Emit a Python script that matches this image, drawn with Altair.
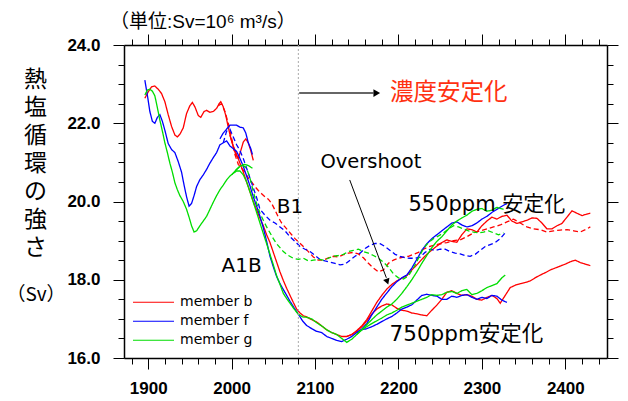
import altair as alt
import pandas as pd

# ---------------- data (year, Sv) ----------------
b_main = [(1896,22.64),(1900,22.8),(1904,22.93),(1908,22.95),(1912,22.87),(1916,22.76),(1920,22.55),(1924,22.22),(1928,21.92),(1932,21.7),(1935,21.65),(1938,21.72),(1942,21.88),(1946,22.25),(1950,22.45),(1953,22.53),(1956,22.42),(1960,22.2),(1963,22.15),(1967,22.3),(1970,22.33),(1974,22.28),(1978,22.3),(1982,22.38),(1985,22.5),(1987,22.55),(1990,22.42),(1993,22.2),(1996,21.9),(1999,21.62),(2002,21.42),(2006,21.2),(2010,20.98),(2014,20.75),(2018,20.5),(2022,20.25),(2026,20.0),(2030,19.78),(2034,19.57),(2038,19.38),(2042,19.15),(2046,18.95),(2050,18.7),(2054,18.45),(2058,18.2),(2062,17.98),(2066,17.78),(2070,17.6),(2074,17.42),(2078,17.25),(2082,17.15),(2086,17.08),(2090,17.05),(2096,16.98),(2102,16.92),(2108,16.82),(2114,16.72),(2120,16.65),(2126,16.6),(2132,16.55),(2138,16.55),(2144,16.6),(2150,16.68),(2156,16.8),(2162,16.95),(2168,17.12),(2174,17.25),(2180,17.33),(2186,17.38),(2192,17.36),(2198,17.27),(2204,17.22),(2210,17.2),(2216,17.15),(2222,17.13),(2228,17.1),(2234,17.08),(2240,17.22),(2246,17.35),(2252,17.5),(2258,17.68),(2264,17.72),(2270,17.65),(2276,17.6),(2282,17.62),(2288,17.58),(2294,17.5),(2300,17.48),(2306,17.55),(2312,17.6),(2318,17.52),(2322,17.4),(2328,17.6),(2334,17.8),(2340,17.86),(2346,17.9),(2352,17.93),(2358,17.97),(2364,18.05),(2370,18.12),(2376,18.18),(2382,18.25),(2388,18.3),(2394,18.35),(2400,18.4),(2406,18.46),(2412,18.5),(2418,18.44),(2424,18.4),(2430,18.36)]
b_over = [(2138,16.55),(2144,16.6),(2150,16.7),(2156,16.82),(2162,16.98),(2168,17.2),(2174,17.42),(2180,17.6),(2186,17.76),(2192,17.88),(2198,17.97),(2204,18.04),(2210,18.1),(2216,18.25),(2222,18.38),(2228,18.52),(2234,18.65),(2240,18.76),(2246,18.86),(2252,18.95),(2258,19.02),(2264,18.98),(2270,18.96),(2276,19.15),(2282,19.3),(2288,19.28),(2294,19.22),(2300,19.38),(2306,19.5),(2312,19.6),(2318,19.55),(2324,19.62),(2330,19.65),(2336,19.5),(2342,19.44),(2348,19.48),(2354,19.52),(2360,19.58),(2366,19.57),(2372,19.45),(2378,19.3),(2384,19.3),(2390,19.38),(2396,19.44),(2402,19.6),(2408,19.76),(2414,19.7),(2420,19.64),(2426,19.68),(2430,19.7)]
b_b1 = [(1984,22.45),(1988,22.5),(1992,22.3),(1996,22.0),(2000,21.62),(2004,21.2),(2008,20.95),(2012,20.85),(2016,20.75),(2020,20.6),(2024,20.5),(2028,20.38),(2032,20.28),(2036,20.2),(2040,20.12),(2044,20.06),(2048,19.95),(2052,19.78),(2056,19.6),(2060,19.45),(2064,19.35),(2068,19.25),(2072,19.15),(2076,19.05),(2080,18.97),(2086,18.85),(2092,18.72),(2098,18.58),(2104,18.5),(2110,18.5),(2116,18.56),(2122,18.6),(2128,18.58),(2134,18.64),(2140,18.68),(2146,18.7),(2152,18.66),(2158,18.56),(2164,18.42),(2170,18.3),(2176,18.2),(2182,18.25),(2188,18.42),(2194,18.5),(2200,18.55),(2206,18.58),(2212,18.6),(2218,18.65),(2224,18.7),(2230,18.78),(2236,18.84),(2242,18.88),(2250,18.92),(2258,18.95),(2266,19.0),(2274,19.02),(2282,19.1),(2290,19.2),(2298,19.25),(2306,19.3),(2314,19.35),(2322,19.4),(2330,19.48),(2338,19.55),(2346,19.45),(2354,19.35),(2362,19.3),(2370,19.28),(2378,19.22),(2386,19.25),(2394,19.27),(2402,19.28),(2410,19.25),(2418,19.22),(2424,19.28),(2430,19.35)]
b_commit = [(1998,21.7),(2002,21.4),(2005,21.2),(2008,21.1),(2011,21.3),(2014,21.52),(2017,21.6),(2020,21.5),(2023,21.3),(2026,21.05)]

f_main = [(1896,23.1),(1899,22.72),(1902,22.3),(1905,22.05),(1908,22.0),(1911,22.15),(1914,22.22),(1917,22.05),(1920,21.82),(1924,21.48),(1928,21.33),(1932,21.25),(1936,21.02),(1940,20.75),(1943,20.42),(1946,20.12),(1949,19.88),(1952,19.95),(1955,20.15),(1958,20.38),(1962,20.56),(1966,20.68),(1970,20.82),(1974,20.98),(1978,21.12),(1982,21.25),(1986,21.45),(1990,21.5),(1994,21.55),(1998,21.42),(2002,21.35),(2006,21.28),(2010,21.1),(2014,20.9),(2018,20.65),(2022,20.4),(2026,20.12),(2030,19.88),(2034,19.62),(2038,19.33),(2042,18.98),(2046,18.6),(2050,18.33),(2054,18.08),(2058,17.9),(2062,17.75),(2066,17.6),(2070,17.45),(2075,17.28),(2080,17.12),(2085,16.95),(2090,16.83),(2096,16.75),(2102,16.68),(2108,16.65),(2114,16.55),(2120,16.5),(2126,16.45),(2132,16.42),(2138,16.48),(2144,16.55),(2150,16.65),(2156,16.72),(2162,16.75),(2168,16.8),(2174,16.86),(2180,16.93),(2186,17.0),(2192,17.06),(2198,17.15),(2204,17.25),(2210,17.3),(2216,17.36),(2222,17.48),(2228,17.6),(2234,17.63),(2240,17.6),(2246,17.58),(2252,17.5),(2258,17.5),(2264,17.58),(2270,17.55),(2276,17.6),(2282,17.62),(2288,17.55),(2294,17.5),(2300,17.55),(2306,17.52),(2312,17.6),(2318,17.58),(2324,17.48),(2330,17.42)]
f_over = [(2150,16.65),(2156,16.74),(2162,16.88),(2168,17.1),(2174,17.3),(2180,17.5),(2186,17.66),(2192,17.82),(2198,17.95),(2204,18.05),(2210,18.12),(2216,18.3),(2222,18.52),(2228,18.75),(2234,18.92),(2240,19.05),(2246,19.15),(2252,19.25),(2258,19.35),(2264,19.45),(2270,19.48),(2276,19.4),(2282,19.35),(2288,19.38),(2294,19.45),(2300,19.55),(2306,19.62),(2312,19.72),(2318,19.8),(2324,19.88),(2330,19.95)]
f_b1 = [(1990,21.5),(1994,21.8),(1998,21.85),(2002,21.65),(2006,21.45),(2010,21.3),(2014,21.1),(2018,20.85),(2022,20.6),(2026,20.35),(2030,20.1),(2034,19.8),(2040,19.65),(2046,19.52),(2052,19.45),(2058,19.35),(2064,19.25),(2070,19.1),(2076,18.98),(2082,18.85),(2088,18.78),(2094,18.72),(2100,18.62),(2106,18.52),(2112,18.48),(2118,18.45),(2124,18.42),(2130,18.38),(2136,18.4),(2142,18.5),(2148,18.6),(2154,18.68),(2160,18.8),(2166,18.88),(2172,18.93),(2178,18.92),(2184,18.85),(2190,18.75),(2196,18.65),(2202,18.6),(2208,18.56),(2214,18.55),(2220,18.55),(2226,18.58),(2232,18.7),(2238,18.78),(2244,18.75),(2250,18.78),(2256,18.78),(2262,18.72),(2268,18.68),(2274,18.66),(2280,18.62),(2286,18.6),(2292,18.65),(2298,18.75),(2304,18.85),(2310,18.9),(2316,18.95),(2322,19.05),(2328,19.2)]
f_commit = [(1986,21.6),(1990,21.75),(1994,21.85),(1998,21.95),(2002,21.95),(2006,21.95),(2010,21.9),(2014,21.88),(2017,21.75),(2020,21.5),(2023,21.35),(2025,21.2)]

g_main = [(1896,22.72),(1899,22.85),(1902,22.87),(1905,22.82),(1908,22.7),(1911,22.4),(1914,22.08),(1917,21.8),(1920,21.5),(1923,21.25),(1926,20.98),(1929,20.75),(1932,20.48),(1935,20.3),(1938,20.15),(1942,20.0),(1946,19.8),(1949,19.6),(1952,19.38),(1955,19.22),(1958,19.25),(1962,19.38),(1966,19.5),(1970,19.62),(1974,19.8),(1978,19.98),(1982,20.15),(1986,20.3),(1990,20.42),(1994,20.55),(1998,20.65),(2002,20.72),(2006,20.78),(2010,20.78),(2014,20.68),(2018,20.5),(2022,20.25),(2026,19.98),(2030,19.72),(2034,19.45),(2038,19.18),(2042,18.92),(2046,18.65),(2050,18.38),(2054,18.1),(2058,17.88),(2062,17.65),(2066,17.52),(2070,17.4),(2075,17.25),(2080,17.12),(2085,17.05),(2090,17.04),(2096,17.0),(2102,16.9),(2108,16.82),(2114,16.72),(2120,16.65),(2126,16.6),(2132,16.5),(2138,16.4),(2144,16.48),(2150,16.6),(2156,16.72),(2162,16.8),(2168,16.88),(2174,16.95),(2180,17.02),(2186,17.1),(2192,17.15),(2198,17.22),(2204,17.3),(2210,17.35),(2216,17.4),(2222,17.45),(2228,17.5),(2234,17.55),(2240,17.62),(2246,17.6),(2252,17.62),(2258,17.68),(2264,17.7),(2270,17.65),(2276,17.72),(2282,17.75),(2288,17.62),(2294,17.65),(2300,17.72),(2306,17.8),(2312,17.85),(2318,17.9),(2324,18.05),(2328,18.12)]
g_over = [(2150,16.6),(2156,16.72),(2162,16.85),(2168,16.98),(2174,17.1),(2180,17.2),(2186,17.3),(2192,17.38),(2198,17.5),(2204,17.65),(2210,17.82),(2216,18.0),(2222,18.2),(2228,18.42),(2234,18.62),(2240,18.82),(2246,18.98),(2252,19.1),(2258,19.25),(2264,19.4),(2270,19.5),(2276,19.58),(2282,19.65),(2288,19.75),(2294,19.8),(2300,19.82),(2306,19.75),(2312,19.78),(2318,19.85),(2326,19.8)]
g_b1 = [(2005,20.8),(2010,20.9),(2014,20.92),(2018,20.85),(2022,20.6),(2026,20.25),(2030,19.95),(2034,19.7),(2038,19.52),(2042,19.35),(2046,19.2),(2050,19.05),(2054,18.92),(2058,18.82),(2062,18.72),(2068,18.62),(2074,18.55),(2080,18.52),(2086,18.55),(2092,18.48),(2098,18.5),(2104,18.52),(2110,18.5),(2116,18.55),(2122,18.6),(2128,18.62),(2134,18.65),(2140,18.72),(2146,18.75),(2152,18.78),(2158,18.72),(2164,18.68),(2170,18.62),(2176,18.55),(2182,18.45),(2188,18.32),(2194,18.15),(2200,18.05),(2206,18.02),(2212,18.1),(2218,18.3),(2224,18.55),(2230,18.8),(2236,18.95),(2242,19.05),(2248,19.12),(2254,19.2),(2260,19.3),(2266,19.38),(2272,19.35),(2278,19.3),(2284,19.25),(2290,19.22),(2296,19.2),(2302,19.22),(2308,19.25),(2314,19.2),(2320,19.15),(2326,19.2)]
g_commit = [(2000,20.68),(2005,20.8),(2010,20.9),(2015,20.95),(2020,20.92),(2025,20.85)]

members = ["member b", "member f", "member g"]
series = [
    ("member b", "solid", "b_main", b_main), ("member b", "solid", "b_over", b_over),
    ("member b", "dashed", "b_b1", b_b1), ("member b", "solid", "b_commit", b_commit),
    ("member f", "solid", "f_main", f_main), ("member f", "solid", "f_over", f_over),
    ("member f", "dashed", "f_b1", f_b1), ("member f", "solid", "f_commit", f_commit),
    ("member g", "solid", "g_main", g_main), ("member g", "solid", "g_over", g_over),
    ("member g", "dashed", "g_b1", g_b1), ("member g", "solid", "g_commit", g_commit),
]

x_ticks = list(range(1880, 2441, 20))
y_ticks = [16 + 0.5 * i for i in range(17)]
mark_year = [2080]

# annotation anchors (data coordinates)
arrow_top = {"x": 2081, "x2": 2170, "y": 22.77, "y2": 22.77}
arrow_top_head = {"x": 2174, "y": 22.77}
arrow_os = {"x": 2141.6, "x2": 2185.5, "y": 20.55, "y2": 18.05}
arrow_os_head = {"x": 2186.6, "y": 17.95}
labels_black = [("B1", 2070, 19.87), ("A1B", 2012, 18.36)]
label_over = ("Overshoot", 2167, 21.0)
label_550 = ("550ppm 安定化", 2306, 19.91)
label_750 = ("750ppm安定化", 2281.5, 16.58)
label_conc = ("濃度安定化", 2190, 22.77)

# ---------------- build ----------------
rows = []
for member, kind, sid, pts in series:
    for i, (yr, v) in enumerate(pts):
        rows.append({"member": member, "kind": kind, "sid": sid, "idx": i, "year": yr, "sv": v})
df = pd.DataFrame(rows)

XS = alt.Scale(domain=[1871, 2450], nice=False, zero=False)
YS = alt.Scale(domain=[16, 24], nice=False, zero=False)
LATIN = "DejaVu Sans, Noto Sans CJK JP"
CJK = "Noto Sans CJK JP"

x_major = {"condition": {"test": "datum.value % 100 === 0", "value": 11}, "value": 6}
y_major = {"condition": {"test": "datum.value % 2 === 0", "value": 11}, "value": 6}

x_axis = alt.Axis(orient="bottom", values=x_ticks, title=None, grid=False,
                  labelExpr="datum.value % 100 === 0 ? '' + datum.value : ''",
                  tickSize=x_major, tickColor="black", tickWidth=1,
                  domainColor="black", domainWidth=1.5,
                  labelFont="Liberation Sans", labelFontSize=17, labelFontWeight="bold",
                  labelColor="black", labelPadding=11, labelOverlap=False, labelFlush=False)
y_axis = alt.Axis(orient="left", values=y_ticks, grid=False,
                  title=["熱", "塩", "循", "環", "の", "強", "さ"],
                  titleAngle=0, titleX=-89, titleY=23, titleAlign="center", titleBaseline="top",
                  titleFont=CJK, titleFontSize=23, titleFontWeight="normal", titleLineHeight=28,
                  titleColor="black",
                  labelExpr="datum.value % 2 === 0 ? format(datum.value, '.1f') : ''",
                  tickSize=y_major, tickColor="black", tickWidth=1,
                  domainColor="black", domainWidth=1.5,
                  labelFont="Liberation Sans", labelFontSize=17, labelFontWeight="bold",
                  labelColor="black", labelPadding=13, labelOverlap=False, labelFlush=False)
x_axis_top = alt.Axis(orient="top", values=x_ticks, title=None, grid=False, labels=False,
                      tickSize=x_major, tickColor="black", tickWidth=1,
                      domainColor="black", domainWidth=1.5)
y_axis_right = alt.Axis(orient="right", values=y_ticks, title=None, grid=False, labels=False,
                        tickSize=y_major, tickColor="black", tickWidth=1,
                        domainColor="black", domainWidth=1.5)

lines = alt.Chart(df).mark_line(strokeWidth=1.3, clip=True).encode(
    x=alt.X("year:Q", scale=XS, axis=x_axis),
    y=alt.Y("sv:Q", scale=YS, axis=y_axis),
    color=alt.Color("member:N",
                    scale=alt.Scale(domain=members, range=["#ff0000", "#0000ff", "#00dd00"]),
                    legend=alt.Legend(orient="none", legendX=8, legendY=248, title=None,
                                      symbolType="stroke", symbolSize=1681, symbolStrokeWidth=1.2,
                                      labelFont=LATIN, labelFontSize=14, labelColor="black",
                                      labelOffset=5, clipHeight=18.5, rowPadding=0, padding=0)),
    strokeDash=alt.StrokeDash("kind:N", scale=alt.Scale(domain=["solid", "dashed"],
                                                         range=[[1, 0], [5, 3]]), legend=None),
    detail="sid:N",
    order="idx:Q",
)

vrule = alt.Chart(pd.DataFrame({"year": mark_year})).mark_rule(
    color="#aaaaaa", strokeWidth=1, strokeDash=[2, 2]).encode(
    x=alt.X("year:Q", scale=XS, axis=x_axis_top),
    y=alt.value(0), y2=alt.value(313),
)
yright = alt.Chart(pd.DataFrame({"v": [16]})).mark_point(opacity=0).encode(
    x=alt.value(0), y=alt.Y("v:Q", scale=YS, axis=y_axis_right))

def seg(d, color, width):
    return alt.Chart(pd.DataFrame([d])).mark_rule(color=color, strokeWidth=width).encode(
        x=alt.X("x:Q", scale=XS, axis=None), x2="x2:Q",
        y=alt.Y("y:Q", scale=YS, axis=None), y2="y2:Q")

def head(d, shape, angle, size):
    return alt.Chart(pd.DataFrame([d])).mark_point(shape=shape, angle=angle, filled=True,
                                                  color="black", size=size, opacity=1).encode(
        x=alt.X("x:Q", scale=XS, axis=None), y=alt.Y("y:Q", scale=YS, axis=None))

def text(items, size, color="black", font=LATIN, align="center"):
    d = pd.DataFrame(items, columns=["t", "x", "y"])
    return alt.Chart(d).mark_text(fontSize=size, font=font, color=color, align=align,
                                  baseline="middle").encode(
        x=alt.X("x:Q", scale=XS, axis=None), y=alt.Y("y:Q", scale=YS, axis=None), text="t:N")

sv_unit = alt.Chart(pd.DataFrame({"t": ["（Sv）"]})).mark_text(
    fontSize=19, font=CJK, color="black", align="center", baseline="middle").encode(
    x=alt.value(-88), y=alt.value(250), text="t:N")

chart = alt.layer(
    lines, vrule, yright,
    seg(arrow_top, "#666666", 2), head(arrow_top_head, "triangle-right", 0, 60),
    seg(arrow_os, "black", 1), head(arrow_os_head, "triangle-down", 340, 45),
    text(labels_black, 20),
    text([label_over], 19.5),
    text([label_550], 21),
    text([label_750], 21.5),
    text([label_conc], 23.5, color="#ff3010", font=CJK, align="left"),
    sv_unit,
).resolve_axis(x="independent", y="independent").properties(
    width=483, height=313,
    autosize=alt.AutoSizeParams(type="none"),
    padding={"left": 124, "top": 45, "right": 21, "bottom": 43},
    title=alt.TitleParams(text="（単位:Sv=10⁶ m³/s）", anchor="start", frame="group",
                          font="Liberation Sans, Noto Sans CJK JP", fontSize=19,
                          fontWeight="normal", color="black", dx=-14, offset=2),
).configure_view(stroke="black", strokeWidth=1.5).configure(background="white")

chart.save("out.html", embed_options={"renderer": "svg", "actions": False})
